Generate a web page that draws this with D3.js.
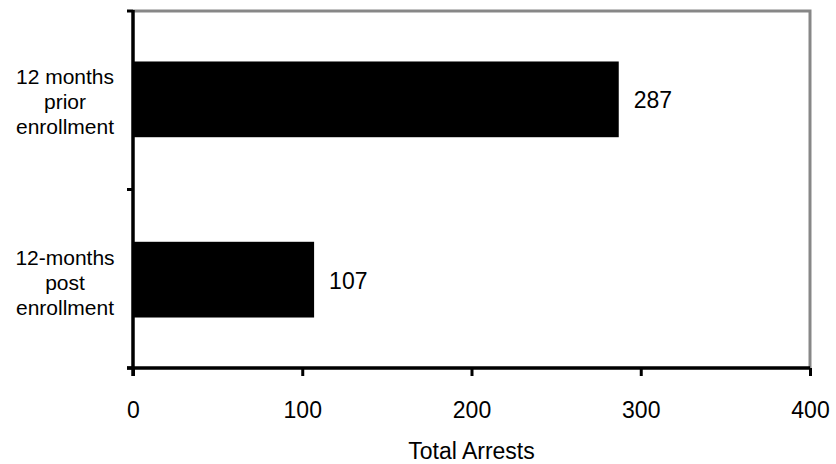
<!DOCTYPE html>
<html>
<head>
<meta charset="utf-8">
<script src="https://cdn.jsdelivr.net/npm/d3@7"></script>
<style>
  html, body { margin: 0; padding: 0; background: #fff; }
  svg { display: block; font-family: "Liberation Sans", Arial, sans-serif; }
</style>
</head>
<body>
<svg id="chart" width="836" height="464"></svg>
<script>
// Arrest counts before and after program enrollment
const categories = [
  ["12 months", "prior", "enrollment"],
  ["12-months", "post", "enrollment"]
];
const arrests = [287, 107];
const xTicks = [0, 100, 200, 300, 400];
const xTitle = "Total Arrests";

const svg = d3.select("#chart");
const margin = { left: 133, right: 26, top: 11, bottom: 96 };
const W = 836, H = 464;
const x = d3.scaleLinear().domain([0, 400]).range([margin.left, W - margin.right]);
const y = d3.scaleBand().domain(d3.range(categories.length))
  .range([margin.top, H - margin.bottom]).paddingInner(0.58).paddingOuter(0.28);

// plot frame: gray top/right
svg.append("path")
  .attr("d", `M${x(0)},${margin.top}H${x(400)}V${H - margin.bottom}`)
  .attr("fill", "none").attr("stroke", "#878787").attr("stroke-width", 3);

// bars
svg.selectAll("rect.bar").data(arrests).enter().append("rect")
  .attr("class", "bar")
  .attr("x", x(0))
  .attr("y", (d, i) => y(i))
  .attr("width", d => x(d) - x(0))
  .attr("height", y.bandwidth())
  .attr("fill", "#000");

// value labels
svg.selectAll("text.val").data(arrests).enter().append("text")
  .attr("class", "val")
  .attr("x", d => x(d) + 15)
  .attr("y", (d, i) => y(i) + y.bandwidth() / 2 + 9)
  .attr("font-size", 23)
  .text(d => d);

// x axis
const xAxis = d3.axisBottom(x).tickValues(xTicks).tickSize(8).tickPadding(26).tickSizeOuter(0);
const gx = svg.append("g").attr("transform", `translate(0,${H - margin.bottom})`).call(xAxis);
gx.select(".domain").attr("stroke", "#000").attr("stroke-width", 3.5)
  .attr("d", `M${x(0) - 6},0H${x(400)}`);
gx.selectAll(".tick line").attr("stroke", "#000").attr("stroke-width", 3);
gx.selectAll(".tick text").attr("font-size", 23).attr("fill", "#000")
  .attr("font-family", "Liberation Sans, Arial, sans-serif");

// y axis with ticks at category boundaries
const yEdges = [margin.top, (margin.top + H - margin.bottom) / 2, H - margin.bottom];
svg.append("line")
  .attr("x1", x(0)).attr("x2", x(0))
  .attr("y1", margin.top - 1).attr("y2", H - margin.bottom + 8)
  .attr("stroke", "#000").attr("stroke-width", 3.5);
svg.selectAll("line.ytick").data(yEdges).enter().append("line")
  .attr("class", "ytick")
  .attr("x1", x(0) - 6).attr("x2", x(0))
  .attr("y1", d => d).attr("y2", d => d)
  .attr("stroke", "#000").attr("stroke-width", 3);

// category labels
const catG = svg.selectAll("text.cat").data(categories).enter().append("text")
  .attr("class", "cat")
  .attr("text-anchor", "middle")
  .attr("font-size", 21)
  .attr("fill", "#000");
catG.each(function(lines, i) {
  const cy = y(i) + y.bandwidth() / 2;
  d3.select(this).selectAll("tspan").data(lines).enter().append("tspan")
    .attr("x", 65)
    .attr("y", (d, j) => cy + (j - 1) * 25 + 10)
    .text(d => d);
});

// x title
svg.append("text")
  .attr("x", (x(0) + x(400)) / 2)
  .attr("y", 459)
  .attr("text-anchor", "middle")
  .attr("font-size", 23)
  .text(xTitle);
</script>
</body>
</html>
